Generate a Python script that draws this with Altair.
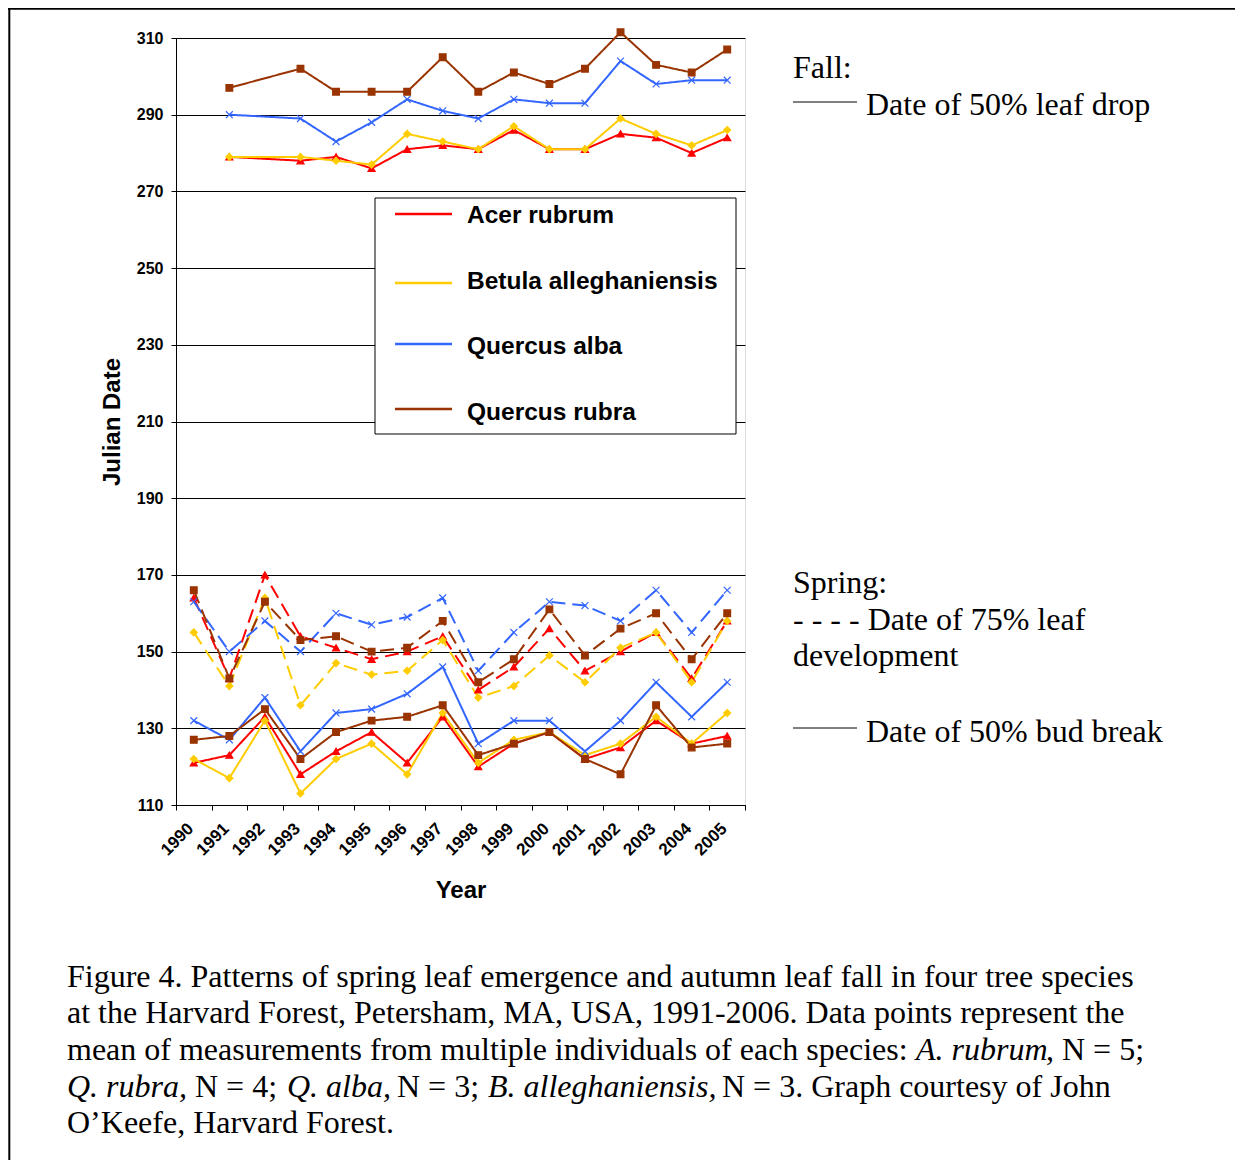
import altair as alt
import pandas as pd

years = [str(y) for y in range(1990, 2006)]
species = ["Acer rubrum", "Betula alleghaniensis", "Quercus alba", "Quercus rubra"]
colors = ["#FF0000", "#FFCC00", "#3366FF", "#993300"]
shapes = ["triangle-up", "diamond", "M-1,-1L1,1M-1,1L1,-1", "square"]
sizes = [50, 45, 90, 42]

# Fall: date of 50% leaf drop (no values for 1990 and 1992)
fall_acer = [None, 279, None, 278, 279, 276, 281, 282, 281, 286, 281, 281, 285, 284, 280, 284]
fall_betula = [None, 279, None, 279, 278, 277, 285, 283, 281, 287, 281, 281, 289, 285, 282, 286]
fall_qalba = [None, 290, None, 289, 283, 288, 294, 291, 289, 294, 293, 293, 304, 298, 299, 299]
fall_qrubra = [None, 297, None, 302, 296, 296, 296, 305, 296, 301, 298, 302, 311.5, 303, 301, 307]

# Spring: date of 75% leaf development (dashed)
leaf_acer = [164, 143, 170, 154, 151, 148, 150, 154, 140, 146, 156, 145, 150, 155, 143, 158]
leaf_betula = [155, 141, 164, 136, 147, 144, 145, 153, 138, 141, 149, 142, 151, 155, 142, 158]
leaf_qalba = [163, 150, 158, 150, 160, 157, 159, 164, 145, 155, 163, 162, 158, 166, 155, 166]
leaf_qrubra = [166, 143, 163, 153, 154, 150, 151, 158, 142, 148, 161, 149, 156, 160, 148, 160]

# Spring: date of 50% bud break (solid)
bud_acer = [121, 123, 133, 118, 124, 129, 121, 133, 120, 126, 129, 122, 125, 132, 126, 128]
bud_betula = [122, 117, 132, 113, 122, 126, 118, 134, 121, 127, 129, 123, 126, 133, 126, 134]
bud_qalba = [132, 127, 138, 124, 134, 135, 139, 146, 126, 132, 132, 124, 132, 142, 133, 142]
bud_qrubra = [127, 128, 135, 122, 129, 132, 133, 136, 123, 126, 129, 122, 118, 136, 125, 126]

y_ticks = list(range(110, 311, 20))

falls = [fall_acer, fall_betula, fall_qalba, fall_qrubra]
leafs = [leaf_acer, leaf_betula, leaf_qalba, leaf_qrubra]
buds = [bud_acer, bud_betula, bud_qalba, bud_qrubra]

rows = []
for sp, f, l, b in zip(species, falls, leafs, buds):
    for phase, series in (("fall", f), ("leafdev", l), ("budbreak", b)):
        for yr, v in zip(years, series):
            if v is not None:
                rows.append({"year": yr, "species": sp, "phase": phase, "value": v})
df = pd.DataFrame(rows)

SANS = "Arial, Liberation Sans, sans-serif"
SERIF = "Times New Roman, Liberation Serif, serif"
CAP = 32

x_enc = alt.X(
    "year:N",
    bandPosition=0.5,
    scale=alt.Scale(type="band", domain=years, paddingInner=0, paddingOuter=0),
    axis=alt.Axis(
        title="Year", titleX=284.5, titleY=85, titleAlign="center", titleBaseline="middle",
        titleFont=SANS, titleFontSize=24, titleFontWeight="bold", titleColor="black",
        tickBand="extent", labelAngle=-45, labelAlign="right", labelBaseline="top",
        labelFont=SANS, labelFontSize=17, labelFontWeight="bold", labelColor="black",
        labelPadding=10, labelOffset=-9, tickSize=5, tickColor="black", domainColor="black",
        grid=False,
    ),
)
y_enc = alt.Y(
    "value:Q",
    scale=alt.Scale(domain=[110, 310], nice=False, zero=False),
    axis=alt.Axis(
        values=y_ticks, title="Julian Date", titleX=-64, titleY=383.5, titleAngle=-90,
        titleAlign="center", titleBaseline="middle",
        titleFont=SANS, titleFontSize=24, titleFontWeight="bold", titleColor="black",
        labelFont=SANS, labelFontSize=16, labelFontWeight="bold", labelColor="black",
        labelPadding=8, tickSize=5, tickColor="black", domainColor="black",
        grid=True, gridColor="black", gridWidth=1,
    ),
)
color_scale = alt.Scale(domain=species, range=colors)

lines = alt.Chart(df).mark_line(strokeWidth=2).encode(
    x=x_enc,
    y=y_enc,
    color=alt.Color("species:N", scale=color_scale, legend=None),
    strokeDash=alt.StrokeDash(
        "phase:N",
        scale=alt.Scale(domain=["fall", "leafdev", "budbreak"], range=[[1, 0], [14, 7], [1, 0]]),
        legend=None,
    ),
)
points = alt.Chart(df).mark_point(opacity=1, strokeWidth=1.2).encode(
    x=x_enc,
    y=y_enc,
    fill=alt.Fill("species:N", scale=color_scale, legend=None),
    stroke=alt.Stroke("species:N", scale=color_scale, legend=None),
    shape=alt.Shape("species:N", scale=alt.Scale(domain=species, range=shapes), legend=None),
    size=alt.Size("species:N", scale=alt.Scale(domain=species, range=sizes), legend=None),
)

one = pd.DataFrame({"k": [0]})


def rule(x1, x2, y, color="black", width=1):
    return alt.Chart(one).mark_rule(color=color, strokeWidth=width).encode(
        x=alt.value(x1), x2=alt.value(x2), y=alt.value(y))


def vrule(x, y1, y2, color="black", width=1):
    return alt.Chart(one).mark_rule(color=color, strokeWidth=width).encode(
        x=alt.value(x), y=alt.value(y1), y2=alt.value(y2))


def text(t, x, y, font=SERIF, size=CAP, style="normal", weight="normal", baseline="alphabetic"):
    return alt.Chart(one).mark_text(
        text=t, align="left", baseline=baseline, font=font, fontSize=size,
        fontStyle=style, fontWeight=weight, color="black",
    ).encode(x=alt.value(x), y=alt.value(y))


layers = []
# figure frame
layers.append(rule(-168, 1059, -29.2, width=2))
layers.append(vrule(-166.7, -30, 1122, width=2))

# legend box
legend_box = alt.Chart(one).mark_rect(fill="white", stroke="black", strokeWidth=1).encode(
    x=alt.value(199), x2=alt.value(560), y=alt.value(160), y2=alt.value(396))
layers.append(legend_box)
layers.append(lines)
layers.append(points)

legend_line_y = [176, 245, 306, 371]
legend_text_y = [178, 244, 309, 375]
for sp, c, ly, ty in zip(species, colors, legend_line_y, legend_text_y):
    layers.append(rule(219, 276, ly, color=c, width=2.5))
    layers.append(text(sp, 291, ty, font=SANS, size=24.5, weight="bold", baseline="middle"))

# right-hand annotations
layers.append(text("Fall:", 617, 40))
layers.append(rule(617, 681, 64))
layers.append(text("Date of 50% leaf drop", 690, 77))
layers.append(text("Spring:", 617, 555))
layers.append(text("- - - - Date of 75% leaf", 617, 592))
layers.append(text("development", 617, 628))
layers.append(rule(617, 681, 690))
layers.append(text("Date of 50% bud break", 690, 704))

# caption
cx = -109
layers.append(text("Figure 4. Patterns of spring leaf emergence and autumn leaf fall in four tree species", cx, 949))
layers.append(text("at the Harvard Forest, Petersham, MA, USA, 1991-2006. Data points represent the", cx, 985))
layers.append(text("mean of measurements from multiple individuals of each species:", cx, 1022))
layers.append(text("A. rubrum", 740, 1022, style="italic"))
layers.append(text(", N = 5;", 870, 1022))
layers.append(text("Q. rubra,", cx, 1059, style="italic"))
layers.append(text("N = 4;", 19, 1059))
layers.append(text("Q. alba,", 111, 1059, style="italic"))
layers.append(text("N = 3;", 221, 1059))
layers.append(text("B. alleghaniensis,", 312, 1059, style="italic"))
layers.append(text("N = 3. Graph courtesy of John", 546, 1059))
layers.append(text("O\u2019Keefe, Harvard Forest.", cx, 1095))

chart = alt.layer(*layers).properties(
    width=569,
    height=767,
    padding={"left": 168, "top": 30, "right": 490, "bottom": 355},
    autosize=alt.AutoSizeParams(type="none"),
).configure_view(stroke="#808080", strokeWidth=1).configure(background="white")

chart.save("out.html", embed_options={"renderer": "svg", "actions": False})
